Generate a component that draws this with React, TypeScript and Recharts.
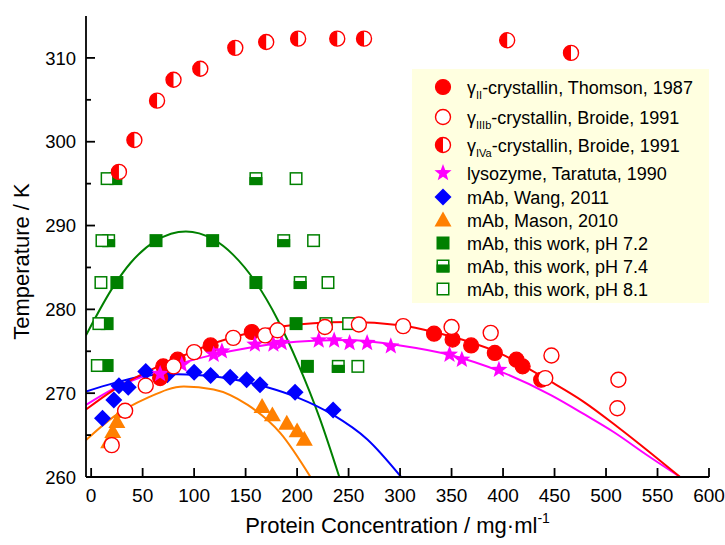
import { ComposedChart, Line, Scatter, XAxis, YAxis, Label } from "recharts";

type Pt = { x: number; y: number };

const FONT = '"Liberation Sans", Arial, sans-serif';
const RED = "#ff0000";
const MAGENTA = "#ff00ff";
const BLUE = "#0000ff";
const ORANGE = "#ff8000";
const GREEN = "#008000";

// measured points, x in mg/ml, y in K
const thomson1987: Pt[] = [
  { x: 67, y: 271.8 }, { x: 70, y: 273.2 }, { x: 84, y: 274.0 }, { x: 116, y: 275.7 },
  { x: 156, y: 277.3 }, { x: 333, y: 277.1 }, { x: 351, y: 276.4 }, { x: 369, y: 275.7 },
  { x: 392, y: 274.8 }, { x: 413, y: 274.0 }, { x: 419, y: 273.2 }, { x: 437, y: 271.6 },
];
const broideIIIb: Pt[] = [
  { x: 20, y: 263.8 }, { x: 33, y: 267.9 }, { x: 53, y: 270.9 }, { x: 80, y: 273.2 },
  { x: 100, y: 274.9 }, { x: 138, y: 276.6 }, { x: 169, y: 276.9 }, { x: 181, y: 277.5 },
  { x: 227, y: 277.9 }, { x: 260, y: 278.2 }, { x: 303, y: 278.0 }, { x: 350, y: 277.9 },
  { x: 388, y: 277.2 }, { x: 441, y: 271.8 }, { x: 447, y: 274.5 }, { x: 511, y: 268.2 },
  { x: 512, y: 271.6 },
];
const broideIVa: Pt[] = [
  { x: 27, y: 296.4 }, { x: 42, y: 300.2 }, { x: 64, y: 304.9 }, { x: 80, y: 307.4 },
  { x: 106, y: 308.7 }, { x: 140, y: 311.2 }, { x: 170, y: 311.9 }, { x: 201, y: 312.3 },
  { x: 239, y: 312.3 }, { x: 265, y: 312.3 }, { x: 404, y: 312.1 }, { x: 466, y: 310.6 },
];
const taratuta1990: Pt[] = [
  { x: 67, y: 272.3 }, { x: 88, y: 273.4 }, { x: 119, y: 274.6 }, { x: 127, y: 275.0 },
  { x: 159, y: 275.8 }, { x: 177, y: 275.8 }, { x: 185, y: 276.0 }, { x: 221, y: 276.3 },
  { x: 236, y: 276.3 }, { x: 251, y: 276.0 }, { x: 268, y: 276.0 }, { x: 291, y: 275.6 },
  { x: 348, y: 274.6 }, { x: 360, y: 274.0 }, { x: 396, y: 272.8 },
];
const wang2011: Pt[] = [
  { x: 11, y: 267.0 }, { x: 22, y: 269.2 }, { x: 27, y: 270.9 }, { x: 36, y: 270.7 },
  { x: 53, y: 272.6 }, { x: 74, y: 272.2 }, { x: 100, y: 272.5 }, { x: 116, y: 272.1 },
  { x: 135, y: 271.9 }, { x: 151, y: 271.6 }, { x: 164, y: 271.0 }, { x: 198, y: 270.1 },
  { x: 235, y: 268.0 },
];
const mason2010: Pt[] = [
  { x: 17, y: 264.2 }, { x: 21, y: 265.4 }, { x: 25, y: 266.6 }, { x: 30, y: 267.8 },
  { x: 166, y: 268.4 }, { x: 176, y: 267.4 }, { x: 190, y: 266.4 }, { x: 200, y: 265.5 },
  { x: 207, y: 264.5 },
];
const ph72: Pt[] = [
  { x: 24, y: 295.6 }, { x: 25, y: 283.2 }, { x: 15.5, y: 278.3 }, { x: 15.5, y: 273.3 },
  { x: 63, y: 288.2 }, { x: 118, y: 288.2 }, { x: 160, y: 283.2 }, { x: 199, y: 278.3 },
  { x: 210, y: 273.2 },
];
const ph74: Pt[] = [
  { x: 17, y: 288.2 }, { x: 160, y: 295.6 }, { x: 187, y: 288.2 }, { x: 203, y: 283.2 },
  { x: 228, y: 278.3 }, { x: 240, y: 273.2 },
];
const ph81: Pt[] = [
  { x: 15.5, y: 295.6 }, { x: 10.5, y: 288.2 }, { x: 9.5, y: 283.2 }, { x: 7.5, y: 278.3 },
  { x: 6, y: 273.3 }, { x: 199, y: 295.6 }, { x: 216, y: 288.2 }, { x: 230, y: 283.2 },
  { x: 250, y: 278.3 }, { x: 259, y: 273.2 },
];

// fitted coexistence curves
const thomsonFit: Pt[] = [
  { x: -5, y: 268.05 }, { x: 22, y: 270.4 }, { x: 54, y: 272.55 }, { x: 87, y: 274.35 },
  { x: 119, y: 275.95 }, { x: 152, y: 277.15 }, { x: 184, y: 277.95 }, { x: 216, y: 278.35 },
  { x: 250, y: 278.5 }, { x: 300, y: 278.1 }, { x: 333, y: 277.3 }, { x: 397, y: 274.75 },
  { x: 446, y: 271.4 }, { x: 478, y: 269.0 }, { x: 511, y: 266.0 }, { x: 543, y: 262.9 },
  { x: 572, y: 260 },
];
const taratutaFit: Pt[] = [
  { x: -5, y: 268.6 }, { x: 22, y: 270.55 }, { x: 54, y: 272.15 }, { x: 87, y: 273.55 },
  { x: 119, y: 274.6 }, { x: 152, y: 275.4 }, { x: 184, y: 275.95 }, { x: 216, y: 276.25 },
  { x: 248, y: 276.35 }, { x: 300, y: 275.7 }, { x: 349, y: 274.55 }, { x: 397, y: 272.6 },
  { x: 446, y: 269.8 }, { x: 480, y: 267.4 }, { x: 507, y: 265.4 }, { x: 540, y: 262.6 },
  { x: 572, y: 260 },
];
const wangFit: Pt[] = [
  { x: -5, y: 270.2 }, { x: 22, y: 271.2 }, { x: 45, y: 271.9 }, { x: 75, y: 272.3 },
  { x: 110, y: 272.1 }, { x: 140, y: 271.6 }, { x: 171, y: 270.7 }, { x: 200, y: 269.5 },
  { x: 235, y: 267.4 }, { x: 268, y: 264.5 }, { x: 301, y: 260 },
];
const masonFit: Pt[] = [
  { x: -5, y: 264.4 }, { x: 22, y: 267.2 }, { x: 54, y: 269.4 }, { x: 90, y: 270.8 },
  { x: 119, y: 270.45 }, { x: 152, y: 268.6 }, { x: 184, y: 265.2 }, { x: 213, y: 260 },
];
const ph72Fit: Pt[] = [
  { x: -5, y: 276.9 }, { x: 22, y: 282.8 }, { x: 38, y: 285.5 }, { x: 63, y: 288.2 },
  { x: 92, y: 289.3 }, { x: 118, y: 288.4 }, { x: 138, y: 286.5 }, { x: 160, y: 283.2 },
  { x: 181, y: 278.8 }, { x: 201, y: 273.5 }, { x: 222, y: 267.0 }, { x: 241, y: 260 },
];

const xTicks = [0, 50, 100, 150, 200, 250, 300, 350, 400, 450, 500, 550, 600];
const yTicks = [260, 265, 270, 275, 280, 285, 290, 295, 300, 305, 310];

// ---- marker shapes ----
const Dot = ({ cx, cy, r = 7.5 }: any) => (
  <circle cx={cx} cy={cy} r={r} fill={RED} stroke={RED} strokeWidth={1.2} />
);
const OpenDot = ({ cx, cy, r = 7.5 }: any) => (
  <circle cx={cx} cy={cy} r={r} fill="#fff" stroke={RED} strokeWidth={1.4} />
);
const HalfDot = ({ cx, cy, r = 7.5 }: any) => (
  <g>
    <circle cx={cx} cy={cy} r={r} fill="#fff" stroke={RED} strokeWidth={1.4} />
    <path d={`M${cx},${cy - r} A${r},${r} 0 0 0 ${cx},${cy + r} Z`} fill={RED} />
  </g>
);
const Star = ({ cx, cy, r = 9 }: any) => {
  const pts: string[] = [];
  for (let i = 0; i < 10; i++) {
    const a = (-90 + i * 36) * (Math.PI / 180);
    const rr = i % 2 === 0 ? r : r * 0.42;
    pts.push(`${cx + rr * Math.cos(a)},${cy + rr * Math.sin(a)}`);
  }
  return <polygon points={pts.join(" ")} fill={MAGENTA} />;
};
const Diamond = ({ cx, cy, r = 8.5 }: any) => (
  <polygon points={`${cx},${cy - r} ${cx + r},${cy} ${cx},${cy + r} ${cx - r},${cy}`} fill={BLUE} />
);
const Triangle = ({ cx, cy, r = 8.5 }: any) => (
  <polygon points={`${cx},${cy - r} ${cx + r},${cy + r * 0.75} ${cx - r},${cy + r * 0.75}`} fill={ORANGE} />
);
const Square = ({ cx, cy, s = 13 }: any) => (
  <rect x={cx - s / 2} y={cy - s / 2} width={s} height={s} fill={GREEN} />
);
const HalfSquare = ({ cx, cy, s = 13 }: any) => (
  <g>
    <rect x={cx - s / 2 + 0.75} y={cy - s / 2 + 0.75} width={s - 1.5} height={s - 1.5} fill="#fff" stroke={GREEN} strokeWidth={1.5} />
    <rect x={cx - s / 2} y={cy - s / 2 + s * 0.38} width={s} height={s * 0.62} fill={GREEN} />
  </g>
);
const OpenSquare = ({ cx, cy, s = 13 }: any) => (
  <rect x={cx - s / 2 + 0.75} y={cy - s / 2 + 0.75} width={s - 1.5} height={s - 1.5} fill="#fff" stroke={GREEN} strokeWidth={1.5} />
);

// ---- axis ticks (drawn inward) ----
const BottomTick = ({ x, y, payload }: any) => (
  <g>
    <line x1={x} y1={y} x2={x} y2={y - 9} stroke="#000" strokeWidth={1.8} />
    <text x={x} y={y + 25} textAnchor="middle" fontSize={19} fontFamily={FONT} fill="#000">
      {payload.value}
    </text>
  </g>
);
const TopTick = ({ x, y }: any) => (
  <line x1={x} y1={y} x2={x} y2={y + 5} stroke="#000" strokeWidth={1.2} />
);
const LeftTick = ({ x, y, payload }: any) => {
  const major = payload.value % 10 === 0;
  return (
    <g>
      <line x1={x} y1={y} x2={x + (major ? 9 : 5)} y2={y} stroke="#000" strokeWidth={1.8} />
      {major && (
        <text x={x - 10} y={y} dy="0.36em" textAnchor="end" fontSize={18.5} fontFamily={FONT} fill="#000">
          {payload.value}
        </text>
      )}
    </g>
  );
};
const RightTick = ({ x, y, payload }: any) => {
  const major = payload.value % 10 === 0;
  return <line x1={x} y1={y} x2={x - (major ? 5 : 3)} y2={y} stroke="#000" strokeWidth={1.2} />;
};

const legendRows = [
  { y: 18, icon: Dot, main: "-crystallin, Thomson, 1987", sub: "II" },
  { y: 48, icon: OpenDot, main: "-crystallin, Broide, 1991", sub: "IIIb" },
  { y: 76, icon: HalfDot, main: "-crystallin, Broide, 1991", sub: "IVa" },
  { y: 104, icon: Star, main: "lysozyme, Taratuta, 1990" },
  { y: 128, icon: Diamond, main: "mAb, Wang, 2011" },
  { y: 151, icon: Triangle, main: "mAb, Mason, 2010" },
  { y: 174, icon: Square, main: "mAb, this work, pH 7.2" },
  { y: 197, icon: HalfSquare, main: "mAb, this work, pH 7.4" },
  { y: 220, icon: OpenSquare, main: "mAb, this work, pH 8.1" },
];

function PhaseLegend() {
  return (
    <svg
      width={297}
      height={234}
      style={{ position: "absolute", left: 412, top: 69, background: "#ffffe0" }}
    >
      {legendRows.map((row, i) => {
        const Icon = row.icon;
        return (
          <g key={i}>
            <Icon cx={31} cy={row.y} />
            <text x={55} y={row.y + 6.5} fontSize={18} fontFamily={FONT} fill="#000">
              {row.sub ? (
                <>
                  γ
                  <tspan fontSize={11} dy={5}>{row.sub}</tspan>
                  <tspan dy={-5}>{row.main}</tspan>
                </>
              ) : (
                row.main
              )}
            </text>
          </g>
        );
      })}
    </svg>
  );
}

const scatter = (data: Pt[], Shape: any, name: string) => (
  <Scatter
    name={name}
    data={data}
    dataKey="y"
    isAnimationActive={false}
    shape={(p: any) => <Shape cx={p.cx} cy={p.cy} />}
  />
);

const fit = (data: Pt[], color: string, name: string) => (
  <Line
    name={name}
    data={data}
    dataKey="y"
    type="monotone"
    stroke={color}
    strokeWidth={2}
    dot={false}
    activeDot={false}
    isAnimationActive={false}
  />
);

export default function App() {
  return (
    <div style={{ position: "absolute", left: 0, top: 0, width: 725, height: 545, background: "#fff" }}>
      <ComposedChart width={725} height={545} margin={{ top: 16, right: 16, bottom: 8, left: 6 }}>
        <XAxis
          dataKey="x"
          type="number"
          domain={[-5, 600]}
          ticks={xTicks}
          interval={0}
          allowDataOverflow
          height={60}
          tickSize={0}
          tickMargin={0}
          tickLine={false}
          tick={<BottomTick />}
          axisLine={{ stroke: "#000", strokeWidth: 1.8 }}
        >
          <Label
            content={({ viewBox }: any) => (
              <text
                x={viewBox.x + viewBox.width / 2}
                y={viewBox.y + 56}
                textAnchor="middle"
                fontSize={22}
                fontFamily={FONT}
                fill="#000"
              >
                Protein Concentration / mg·ml
                <tspan fontSize={14} dy={-10}>-1</tspan>
              </text>
            )}
          />
        </XAxis>
        <XAxis
          xAxisId="top"
          orientation="top"
          dataKey="x"
          type="number"
          domain={[-5, 600]}
          ticks={xTicks}
          interval={0}
          allowDataOverflow
          height={0}
          tickSize={0}
          tickMargin={0}
          tickLine={false}
          tick={<TopTick />}
          axisLine={{ stroke: "#000", strokeWidth: 1.8 }}
        />
        <YAxis
          type="number"
          domain={[260, 315]}
          ticks={yTicks}
          interval={0}
          allowDataOverflow
          width={80}
          tickSize={0}
          tickMargin={0}
          tickLine={false}
          tick={<LeftTick />}
          axisLine={{ stroke: "#000", strokeWidth: 1.8 }}
        >
          <Label
            content={({ viewBox }: any) => {
              const x = viewBox.x + 23;
              const y = viewBox.y + viewBox.height / 2 + 15;
              return (
                <text
                  x={x}
                  y={y}
                  transform={`rotate(-90, ${x}, ${y})`}
                  textAnchor="middle"
                  fontSize={22}
                  fontFamily={FONT}
                  fill="#000"
                >
                  Temperature / K
                </text>
              );
            }}
          />
        </YAxis>
        <YAxis
          yAxisId="right"
          orientation="right"
          type="number"
          domain={[260, 315]}
          ticks={yTicks}
          interval={0}
          allowDataOverflow
          width={0}
          tickSize={0}
          tickMargin={0}
          tickLine={false}
          tick={<RightTick />}
          axisLine={{ stroke: "#000", strokeWidth: 1.8 }}
        />

        {fit(ph72Fit, GREEN, "pH 7.2 fit")}
        {fit(masonFit, ORANGE, "Mason fit")}
        {fit(wangFit, BLUE, "Wang fit")}
        {fit(taratutaFit, MAGENTA, "Taratuta fit")}
        {fit(thomsonFit, RED, "Thomson fit")}

        {scatter(ph72, Square, "pH 7.2")}
        {scatter(ph74, HalfSquare, "pH 7.4")}
        {scatter(ph81, OpenSquare, "pH 8.1")}
        {scatter(mason2010, Triangle, "Mason 2010")}
        {scatter(wang2011, Diamond, "Wang 2011")}
        {scatter(thomson1987, Dot, "Thomson 1987")}
        {scatter(taratuta1990, Star, "Taratuta 1990")}
        {scatter(broideIIIb, OpenDot, "Broide IIIb")}
        {scatter(broideIVa, HalfDot, "Broide IVa")}
      </ComposedChart>
      <PhaseLegend />
    </div>
  );
}
